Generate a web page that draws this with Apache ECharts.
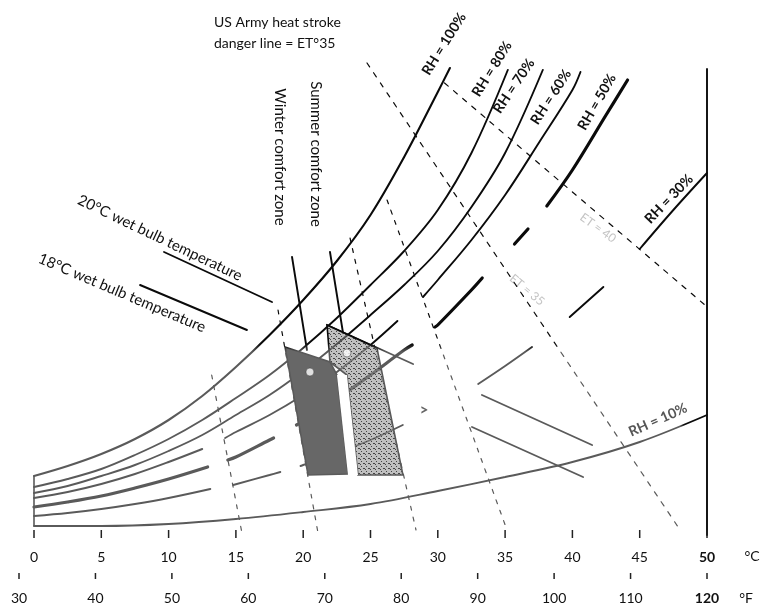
<!DOCTYPE html>
<html>
<head>
<meta charset="utf-8">
<script src="https://cdn.jsdelivr.net/npm/echarts@6/dist/echarts.min.js"></script>
<style>
  html, body { margin: 0; background: #fff; }
  #chart { width: 766px; height: 610px; }
</style>
</head>
<body>
<div id="chart"></div>
<script>
// x = dry bulb temperature (°C), y = vapour pressure (kPa)
const celsiusTicks = [0, 5, 10, 15, 20, 25, 30, 35, 40, 45, 50];
const fahrenheitTicks = [30, 40, 50, 60, 70, 80, 90, 100, 110, 120];

const rh100 = [[[0,0.59],[2.5,0.69],[5,0.81],[7.5,0.96],[10,1.15],[12.5,1.39],[15,1.68],[17.5,2.0],[20,2.35],[22.5,2.74],[25,3.2],[27.5,3.78],[30,4.43],[30.9,4.67]]];
const rh80 = [[[0,0.48],[2.5,0.56],[5,0.66],[7.5,0.8],[10,0.96],[12.5,1.15],[15,1.37],[17.5,1.6],[20,1.87],[22.5,2.17],[25,2.5],[27.5,2.84],[30,3.25],[32.5,3.82],[35.2,4.65]]];
const rh70 = [[[0,0.42],[2.5,0.49],[5,0.59],[7.5,0.7],[10,0.84],[12.5,1.0],[15,1.2],[17.5,1.4],[20,1.64],[22.5,1.91],[25,2.2],[27.5,2.5],[30,2.84],[32.5,3.28],[35,3.82],[37.8,4.65]]];
const rh60 = [
  [[0,0.37],[2.5,0.43],[5,0.51],[7.5,0.61],[10,0.73],[12.5,0.86]],
  [[14.2,0.97],[15,1.03],[17.5,1.2],[20,1.4],[22.5,1.63],[25,1.9],[27,2.14]],
  [[28.9,2.38],[30,2.55],[32.5,2.95],[35,3.4],[37.5,3.92],[40,4.45],[40.6,4.63]]
];
const rh50 = [
  [[0,0.28],[2.5,0.33],[5,0.39],[7.5,0.47],[10,0.56],[12.9,0.68]],
  [[14.4,0.75],[15,0.78],[17.5,0.95],[17.8,0.97]],
  [[19.5,1.1],[20,1.14],[22.5,1.36],[25,1.6],[27.5,1.85],[28.1,1.9]],
  [[29.8,2.08],[30,2.1],[32.5,2.45],[33.3,2.57]],
  [[35.7,2.91],[36.7,3.06]],
  [[38.1,3.29],[40,3.65],[42.5,4.2],[44.1,4.55]]
];
const rh30 = [
  [[0,0.19],[2.5,0.22],[5,0.26],[7.5,0.31],[10,0.37],[13.1,0.46]],
  [[14.8,0.5],[17.5,0.6],[18.3,0.63]],
  [[19.8,0.69],[20,0.7],[22.5,0.82],[25,0.95],[27.4,1.1]],
  [[33,1.51],[35,1.69],[37,1.88]],
  [[39.8,2.18],[42.3,2.48]],
  [[45,2.86],[47.5,3.25],[50,3.62]]
];
const rh10 = [[[0,0.09],[5,0.09],[10,0.11],[15,0.16],[20,0.23],[25,0.31],[30,0.44],[35,0.58],[40,0.73],[45,0.93],[50,1.2]]];

const wetBulb20 = [[[9.66,2.83],[17.68,2.33]], [[21.77,2.1],[28.16,1.71]], [[33.28,1.4],[41.46,0.9]]];
const wetBulb18 = [[[7.88,2.5],[15.82,2.05]], [[32.54,1.08],[40.79,0.58]]];

const etHeatStroke = [[24.74,4.72],[48.0,0.05]];
const etUpper = [[30.5,4.52],[49.85,2.3]];
const etLines = [
  [[13.2,1.6],[15.45,0.02]],
  [[18.13,2.25],[21.1,0.02]],
  [[23.48,2.97],[28.38,0.05]],
  [[26.23,3.35],[35.14,0.05]]
];

const winterZone = [[18.65,1.88],[21.99,1.73],[22.51,1.6],[23.33,0.61],[20.36,0.6]];
const summerZone = [[21.77,2.1],[25.48,1.87],[27.41,0.6],[24.07,0.6],[23.25,1.6],[21.99,1.73]];
const zoneGap = [[22.51,1.6],[23.25,1.6],[24.07,0.6],[23.33,0.6]];
const zoneDots = [[20.5,1.63],[23.25,1.82]];
const winterLeader = [[19.17,2.78],[20.28,1.85]];
const summerLeader = [[21.99,2.83],[22.96,2.02]];

const rightEdge = [[50,0],[50,4.66]];
const leftEdge = [[0,0.09],[0,0.59]];

// the scan is black above ~y=348 and grey below it
const ink = {
  type: 'linear', x: 0, y: 344, x2: 0, y2: 352, global: true,
  colorStops: [{ offset: 0, color: '#0a0a0a' }, { offset: 1, color: '#5a5a5a' }]
};
const inkRight = {
  type: 'linear', x: 680, y: 0, x2: 684, y2: 0, global: true,
  colorStops: [{ offset: 0, color: '#5a5a5a' }, { offset: 1, color: '#0a0a0a' }]
};

const chart = echarts.init(document.getElementById('chart'));
const series = [];

function addLine(pts, width, color, dash) {
  series.push({
    type: 'line', data: pts, xAxisIndex: 0, yAxisIndex: 0,
    symbol: 'none', smooth: 0.35, silent: true,
    animation: false, clip: false, z: 2,
    lineStyle: { color: color || ink, width: width, type: dash || 'solid', cap: 'round' }
  });
}
function addCurve(segs, width, color) {
  segs.forEach(s => addLine(s, width, color));
}
function addPolygon(pts, fill, z) {
  series.push({
    type: 'custom', xAxisIndex: 0, yAxisIndex: 0, data: [[0, 0]],
    silent: true, animation: false, clip: false, z: z,
    renderItem: (params, api) => ({
      type: 'polygon',
      shape: { points: pts.map(p => api.coord(p)) },
      style: { fill: fill, stroke: fill === '#fff' ? null : ink, lineWidth: 1.6 }
    })
  });
}
// short upright tick marks, one per tick value
function addTicks(values, axisIndex, top, bottom) {
  series.push({
    type: 'custom', xAxisIndex: axisIndex, yAxisIndex: axisIndex,
    data: values.map(v => [v, 0]),
    silent: true, animation: false, clip: false, z: 6,
    renderItem: (params, api) => {
      const c = api.coord([api.value(0), api.value(1)]);
      return {
        type: 'line',
        shape: { x1: c[0], y1: c[1] + top, x2: c[0], y2: c[1] + bottom },
        style: { stroke: '#222', lineWidth: 1.5 }
      };
    }
  });
}

// stipple for the summer zone
const pat = document.createElement('canvas');
pat.width = 5; pat.height = 5;
const pc = pat.getContext('2d');
pc.fillStyle = 'rgba(140,140,140,0.55)';
pc.fillRect(0, 0, 5, 5);
pc.fillStyle = '#444';
pc.fillRect(1, 1, 1, 1);
pc.fillRect(3, 3, 2, 1);
pc.fillRect(0, 4, 1, 1);

addCurve(rh100, 2.1);
addCurve(rh80, 1.9);
addCurve(rh70, 1.9);
addCurve(rh60, 1.9);
addCurve(rh50, 3.2);
addCurve(rh30, 1.9);
addCurve(rh10, 1.9, inkRight);
addCurve(wetBulb20, 1.9);
addCurve(wetBulb18, 1.9);
addLine(winterLeader, 1.9);
addLine(summerLeader, 1.9);
addLine(rightEdge, 1.9, '#0a0a0a');
addLine(leftEdge, 1.6);
addLine(etHeatStroke, 1.2, null, [5, 7]);
addLine(etUpper, 1.2, null, [5, 7]);
etLines.forEach(l => addLine(l, 1.2, null, [4, 7]));

addPolygon(winterZone, '#676767', 3);
addPolygon(summerZone, { image: pat, repeat: 'repeat' }, 3);
addPolygon(zoneGap, '#fff', 4);

series.push({
  type: 'scatter', data: zoneDots, xAxisIndex: 0, yAxisIndex: 0,
  symbolSize: 8, silent: true, animation: false, z: 5,
  itemStyle: { color: '#fff', borderColor: '#333', borderWidth: 0.6 }
});

addTicks(fahrenheitTicks, 1, -5, 1);

const font = 'Lato, "DejaVu Sans", sans-serif';
function txt(text, x, y, deg, size, weight, color) {
  return {
    type: 'text', x: x, y: y, rotation: deg * Math.PI / 180, silent: true,
    style: {
      text: text, fontSize: size, fontWeight: weight || 'normal', fontFamily: font,
      fill: color || '#111', align: 'center', verticalAlign: 'middle'
    }
  };
}

const graphic = [
  { type: 'text', x: 214, y: 22, silent: true,
    style: { text: 'US Army heat stroke', fontSize: 14, fontFamily: font, fill: '#111', verticalAlign: 'middle' } },
  { type: 'text', x: 214, y: 43, silent: true,
    style: { text: 'danger line = ET°35', fontSize: 14, fontFamily: font, fill: '#111', verticalAlign: 'middle' } },
  txt('Winter comfort zone', 280, 157, -90, 15),
  txt('Summer comfort zone', 316, 154, -90, 15),
  txt('20°C wet bulb temperature', 160, 238, -25.5, 15),
  txt('18°C wet bulb temperature', 122, 293, -23, 15),
  txt('RH = 100%', 444, 44, 58, 14, 'bold'),
  txt('RH = 80%', 492, 69, 58, 14, 'bold'),
  txt('RH = 70%', 514, 86, 56, 14, 'bold'),
  txt('RH = 60%', 551, 97, 57, 14, 'bold'),
  txt('RH = 50%', 597, 102, 60, 14, 'bold'),
  txt('RH = 30%', 669, 199, 46, 14, 'bold'),
  txt('RH = 10%', 658, 420, 24, 14, 'bold', '#555'),
  txt('ET = 40', 598, 228, -36, 12, 'normal', '#c4c4c4'),
  txt('ET = 35', 527, 290, -40, 12, 'normal', '#c4c4c4'),
  txt('>', 424, 410, 0, 15, 'bold', '#666'),
  txt('°C', 752, 556, 0, 14),
  txt('°F', 746, 598, 0, 14)
];

const tickLabel = {
  fontSize: 14, fontFamily: font, color: '#111',
  rich: { b: { fontSize: 14, fontFamily: font, fontWeight: 'bold', color: '#111' } }
};

chart.setOption({
  backgroundColor: '#fff',
  animation: false,
  grid: [
    { left: 34, right: 59, top: 35, bottom: 75 },
    { left: 19, right: 59, top: 500, bottom: 32 }
  ],
  xAxis: [
    {
      type: 'value', gridIndex: 0, min: celsiusTicks[0], max: celsiusTicks[celsiusTicks.length - 1], interval: 5,
      axisLine: { show: false }, splitLine: { show: false }, axisTick: { show: false },
      axisLabel: Object.assign({ margin: 15, formatter: v => v === 50 ? '{b|50}' : String(v) }, tickLabel)
    },
    {
      type: 'value', gridIndex: 1, min: fahrenheitTicks[0], max: fahrenheitTicks[fahrenheitTicks.length - 1], interval: 10,
      axisLine: { show: false }, splitLine: { show: false }, axisTick: { show: false },
      axisLabel: Object.assign({ margin: 13, formatter: v => v === 120 ? '{b|120}' : String(v) }, tickLabel)
    }
  ],
  yAxis: [
    { type: 'value', gridIndex: 0, min: 0, max: 5, show: false },
    { type: 'value', gridIndex: 1, min: 0, max: 1, show: false }
  ],
  graphic: graphic,
  series: series
});

// °C tick marks placed through the chart's own scale
const celsiusMarks = celsiusTicks.map(v => {
  const p = chart.convertToPixel({ gridIndex: 0 }, [v, 0]);
  return {
    type: 'line', silent: true, z: 50,
    shape: { x1: p[0], y1: p[1] - 5, x2: p[0], y2: p[1] + 3 },
    style: { stroke: '#222', lineWidth: 1.5 }
  };
});
chart.setOption({ graphic: graphic.concat(celsiusMarks) });
</script>
</body>
</html>
